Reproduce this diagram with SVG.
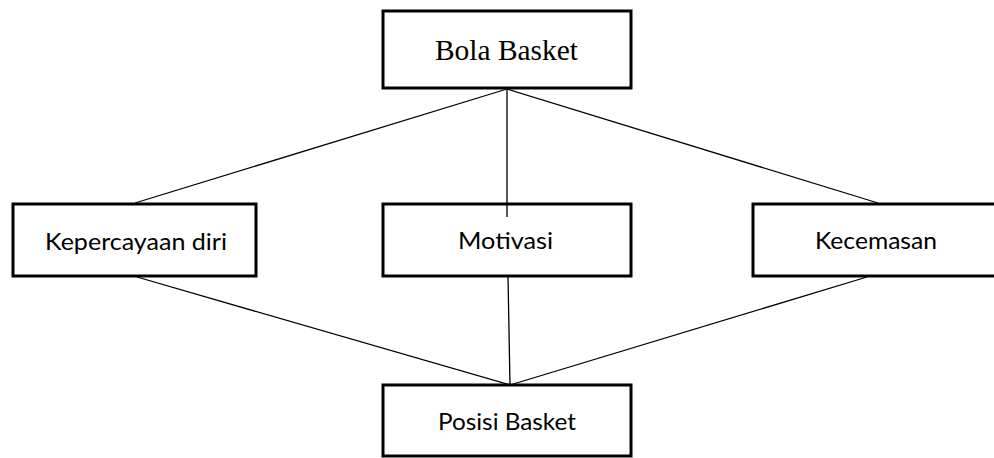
<svg xmlns="http://www.w3.org/2000/svg" width="994" height="458" viewBox="0 0 994 458">
<style>
.box{fill:#fff;stroke:#000;stroke-width:3}
.lbl{font-family:Lato,"Liberation Sans",sans-serif;font-size:24px;fill:#000;text-anchor:middle}
.ser{font-family:"Liberation Serif","Times New Roman",serif;font-size:29px;fill:#000;text-anchor:middle}
.c{stroke:#000;stroke-width:1.3;fill:none}
</style>
<rect width="994" height="458" fill="#fff"/>
<g id="connectors">
<line class="c" x1="507" y1="89" x2="135" y2="203"/>
<line class="c" x1="507" y1="89" x2="878" y2="203"/>
<line class="c" x1="137" y1="277" x2="510" y2="385"/>
<line class="c" x1="867" y1="277" x2="510" y2="385"/>
<line class="c" x1="508" y1="277" x2="510" y2="385"/>
</g>
<g id="bola-basket">
<rect class="box" x="383" y="11" width="248" height="77"/>
<text class="ser" x="506.5" y="60" textLength="143" lengthAdjust="spacingAndGlyphs">Bola Basket</text>
</g>
<g id="kepercayaan-diri">
<rect class="box" x="13" y="204" width="243" height="72"/>
<text class="lbl" x="136" y="250" textLength="182" lengthAdjust="spacingAndGlyphs">Kepercayaan diri</text>
</g>
<g id="motivasi">
<rect class="box" x="383" y="204" width="248" height="72"/>
<text class="lbl" x="505.5" y="249" textLength="95" lengthAdjust="spacingAndGlyphs">Motivasi</text>
</g>
<g id="kecemasan">
<rect class="box" x="753" y="204" width="244" height="72"/>
<text class="lbl" x="876" y="249" textLength="122" lengthAdjust="spacingAndGlyphs">Kecemasan</text>
</g>
<g id="posisi-basket">
<rect class="box" x="383" y="385" width="248" height="71"/>
<text class="lbl" x="507" y="430" textLength="138" lengthAdjust="spacingAndGlyphs">Posisi Basket</text>
</g>
<g id="connector-top-mid">
<line class="c" x1="507" y1="89" x2="507" y2="217"/>
</g>
</svg>
